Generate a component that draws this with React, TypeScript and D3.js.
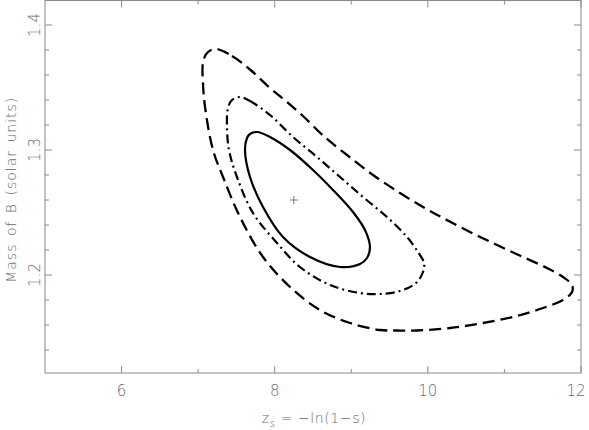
import React from 'react';
import * as d3 from 'd3';

// contour levels (z_s, mass)
const innerX = [7.769, 7.938, 8.2, 8.5, 8.761, 9.022, 9.179, 9.244, 9.205, 9.114, 8.853, 8.461, 8.108, 7.847, 7.677, 7.612, 7.638, 7.677];
const innerY = [1.3144, 1.3104, 1.3, 1.284, 1.268, 1.2504, 1.236, 1.2224, 1.2136, 1.2088, 1.2064, 1.2144, 1.2304, 1.2544, 1.2784, 1.3, 1.3096, 1.3128];

const middleX = [7.547, 7.677, 7.938, 8.239, 8.552, 8.853, 9.153, 9.466, 9.728, 9.871, 9.95, 9.937, 9.845, 9.636, 9.375, 9.114, 8.722, 8.33, 8.03, 7.716, 7.507, 7.403, 7.377, 7.39, 7.442];
const middleY = [1.3424, 1.3392, 1.328, 1.3104, 1.2944, 1.2784, 1.2624, 1.2464, 1.2304, 1.2184, 1.2096, 1.2024, 1.1936, 1.1872, 1.1848, 1.1856, 1.192, 1.2064, 1.2256, 1.2496, 1.2784, 1.3, 1.3184, 1.3336, 1.34];

const outerX = [7.22, 7.442, 7.677, 7.938, 8.16, 8.369, 8.631, 8.944, 9.284, 9.636, 9.937, 10.198, 10.55, 10.903, 11.243, 11.556, 11.765, 11.883, 11.883, 11.765, 11.504, 11.164, 10.72, 10.289, 9.858, 9.597, 9.375, 8.983, 8.591, 8.2, 7.847, 7.547, 7.325, 7.194, 7.09, 7.063, 7.063, 7.116];
const outerY = [1.3808, 1.3752, 1.3644, 1.3496, 1.3384, 1.3272, 1.3116, 1.296, 1.28, 1.2656, 1.2544, 1.2456, 1.2344, 1.224, 1.2144, 1.2056, 1.1984, 1.192, 1.1864, 1.18, 1.1736, 1.1672, 1.1616, 1.1576, 1.1556, 1.1556, 1.156, 1.1616, 1.172, 1.1904, 1.2144, 1.2464, 1.2784, 1.3, 1.3344, 1.3536, 1.3696, 1.3776];

const bestFit = [8.25, 1.26];

const xMajor = [6, 8, 10, 12];
const xMinor = [7, 9, 11];
const xTickLabels = ['6', '8', '10', '12'];
const yMajor = [1.2, 1.3, 1.4];
const yMinor = [1.14, 1.16, 1.18, 1.22, 1.24, 1.26, 1.28, 1.32, 1.34, 1.36, 1.38];
const yTickLabels = ['1.2', '1.3', '1.4'];

const W = 589;
const H = 430;
const left = 45;
const right = 581;
const top = 0.5;
const bottom = 373;

const axisColor = '#8a8a8a';
const textColor = '#6a6a6a';
const font = 'DejaVu Sans';

export default function App() {
  const x = d3.scaleLinear().domain([5, 12]).range([left, right]);
  const y = d3.scaleLinear().domain([1.1216, 1.42]).range([bottom, 0]);

  const line = d3.line<number>()
    .curve(d3.curveCatmullRomClosed.alpha(0.5));

  const contour = (xs: number[], ys: number[]) =>
    line(xs.map((v, i) => [x(v), y(ys[i])]) as any);

  const majorLen = 7;
  const minorLen = 4;

  return (
    <svg width={W} height={H} style={{ position: 'absolute', left: 0, top: 0, background: '#fff' }}>
      <rect x={left} y={top} width={right - left} height={bottom - top} fill="none" stroke={axisColor} strokeWidth={1} />

      {xMajor.map(v => (
        <g key={'xM' + v}>
          <line x1={x(v)} x2={x(v)} y1={bottom} y2={bottom - majorLen} stroke={axisColor} />
          <line x1={x(v)} x2={x(v)} y1={top} y2={top + majorLen} stroke={axisColor} />
        </g>
      ))}
      {xMinor.map(v => (
        <g key={'xm' + v}>
          <line x1={x(v)} x2={x(v)} y1={bottom} y2={bottom - minorLen} stroke={axisColor} />
          <line x1={x(v)} x2={x(v)} y1={top} y2={top + minorLen} stroke={axisColor} />
        </g>
      ))}
      {yMajor.map(v => (
        <g key={'yM' + v}>
          <line x1={left} x2={left + majorLen} y1={y(v)} y2={y(v)} stroke={axisColor} />
          <line x1={right} x2={right - majorLen} y1={y(v)} y2={y(v)} stroke={axisColor} />
        </g>
      ))}
      {yMinor.map(v => (
        <g key={'ym' + v}>
          <line x1={left} x2={left + minorLen} y1={y(v)} y2={y(v)} stroke={axisColor} />
          <line x1={right} x2={right - minorLen} y1={y(v)} y2={y(v)} stroke={axisColor} />
        </g>
      ))}

      {xMajor.map((v, i) => (
        <text key={'xl' + v} x={Math.min(x(v), 576)} y={396} textAnchor="middle" fontFamily={font} fontSize={15} fontWeight={300} fill={textColor}>
          {xTickLabels[i]}
        </text>
      ))}
      {yMajor.map((v, i) => (
        <text key={'yl' + v} transform={`translate(39.5,${y(v)}) rotate(-90)`} textAnchor="middle" fontFamily={font} fontSize={15} fontWeight={300} fill={textColor}>
          {yTickLabels[i]}
        </text>
      ))}

      <text x={314} y={423} textAnchor="middle" fontFamily={font} fontSize={14} fontWeight={300} fill={textColor} letterSpacing={0.6}>
        z<tspan dy={4} fontSize={10}>s</tspan><tspan dy={-4}>{'  =  \u2212ln(1\u2212s)'}</tspan>
      </text>
      <text transform={`translate(15.5,${(bottom + top) / 2 + 3}) rotate(-90)`} textAnchor="middle" fontFamily={font} fontSize={14} fontWeight={300} fill={textColor} letterSpacing={1} wordSpacing={2}>
        Mass of B (solar units)
      </text>

      <path d={contour(outerX, outerY) || ''} fill="none" stroke="#000" strokeWidth={2.3} strokeDasharray="12,6" />
      <path d={contour(middleX, middleY) || ''} fill="none" stroke="#000" strokeWidth={2.2} strokeDasharray="9,4,2,4" />
      <path d={contour(innerX, innerY) || ''} fill="none" stroke="#000" strokeWidth={2.2} />

      <g stroke="#555" strokeWidth={0.8}>
        <line x1={x(bestFit[0]) - 4} x2={x(bestFit[0]) + 4} y1={y(bestFit[1])} y2={y(bestFit[1])} />
        <line x1={x(bestFit[0])} x2={x(bestFit[0])} y1={y(bestFit[1]) - 4} y2={y(bestFit[1]) + 4} />
      </g>
    </svg>
  );
}
